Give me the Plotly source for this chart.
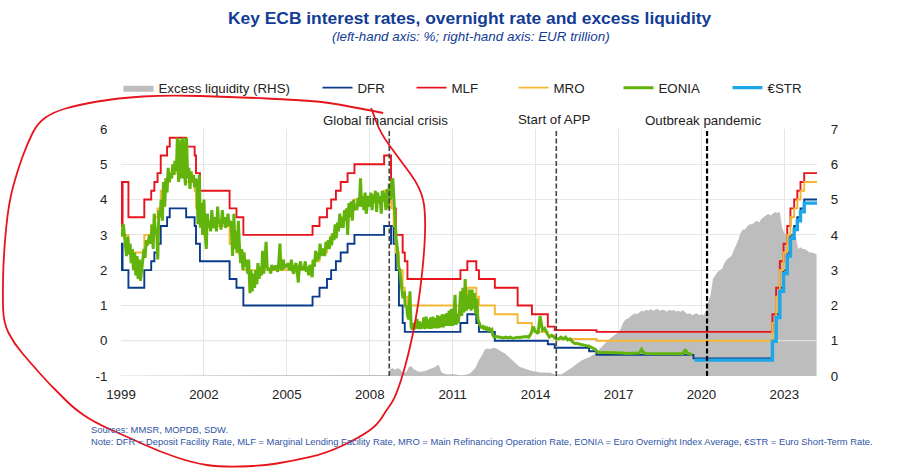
import pandas as pd
import plotly.graph_objects as go

W, H = 915, 468
PLOT_L, PLOT_R, PLOT_T, PLOT_B = 120.5, 817.3, 129, 376

# key ECB rates: date of each change, then the level from that date on
change_dates = [
    "1999-01-01", "1999-01-04", "1999-01-22", "1999-04-09", "1999-11-05", "2000-02-04", "2000-03-17", "2000-04-28",
    "2000-06-09", "2000-09-01", "2000-10-06", "2001-05-11", "2001-08-31", "2001-09-18", "2001-11-09", "2002-12-06",
    "2003-03-07", "2003-06-06", "2005-12-06", "2006-03-08", "2006-06-15", "2006-08-09", "2006-10-11", "2006-12-13",
    "2007-03-14", "2007-06-13", "2008-07-09", "2008-10-08", "2008-10-09", "2008-11-12", "2008-12-10", "2009-01-21",
    "2009-03-11", "2009-04-08", "2009-05-13", "2011-04-13", "2011-07-13", "2011-11-09", "2011-12-14", "2012-07-11",
    "2013-05-08", "2013-11-13", "2014-06-11", "2014-09-10", "2015-12-09", "2016-03-16", "2019-09-18", "2022-07-27",
    "2022-09-14", "2022-11-02", "2022-12-21", "2023-02-08", "2023-03-22", "2023-05-10", "2023-06-21", "2023-08-02",
    "2023-09-20", "2024-03-07",
]
dfr = [
    2.0, 2.75, 2.0, 1.5, 2.0, 2.25, 2.5, 2.75, 3.25, 3.5, 3.75, 3.5, 3.25, 2.75, 2.25, 1.75, 1.5, 1.0, 1.25, 1.5,
    1.75, 2.0, 2.25, 2.5, 2.75, 3.0, 3.25, 2.75, 3.25, 2.75, 2.0, 1.0, 0.5, 0.25, 0.25, 0.5, 0.75, 0.5, 0.25, 0.0,
    0.0, 0.0, -0.1, -0.2, -0.3, -0.4, -0.5, 0.0, 0.75, 1.5, 2.0, 2.5, 3.0, 3.25, 3.5, 3.75, 4.0, 4.0,
]
mro = [
    3.0, 3.0, 3.0, 2.5, 3.0, 3.25, 3.5, 3.75, 4.25, 4.5, 4.75, 4.5, 4.25, 3.75, 3.25, 2.75, 2.5, 2.0, 2.25, 2.5,
    2.75, 3.0, 3.25, 3.5, 3.75, 4.0, 4.25, 3.75, 3.75, 3.25, 2.5, 2.0, 1.5, 1.25, 1.0, 1.25, 1.5, 1.25, 1.0, 0.75,
    0.5, 0.25, 0.15, 0.05, 0.05, 0.0, 0.0, 0.5, 1.25, 2.0, 2.5, 3.0, 3.5, 3.75, 4.0, 4.25, 4.5, 4.5,
]
mlf = [
    4.5, 3.25, 4.5, 3.5, 4.0, 4.25, 4.5, 4.75, 5.25, 5.5, 5.75, 5.5, 5.25, 4.75, 4.25, 3.75, 3.5, 3.0, 3.25, 3.5,
    3.75, 4.0, 4.25, 4.5, 4.75, 5.0, 5.25, 4.75, 4.25, 3.75, 3.0, 3.0, 2.5, 2.25, 1.75, 2.0, 2.25, 2.0, 1.75, 1.5,
    1.0, 0.75, 0.4, 0.3, 0.3, 0.25, 0.25, 0.75, 1.5, 2.25, 2.75, 3.25, 3.75, 4.0, 4.25, 4.5, 4.75, 4.75,
]

# EONIA, two readings per month up to mid 2012
eonia_noisy = [
    3.2, 2.95, 3.3, 3.0, 2.9, 2.4, 2.95, 2.45, 2.75, 2.2, 2.6, 2.0, 2.5, 1.85, 2.4, 1.75, 2.3, 1.7, 2.0, 2.3, 2.6, 2.35, 2.85, 2.7,
    2.9, 3.0, 2.75, 3.3, 2.6, 3.6, 3.0, 3.2, 2.3, 3.7, 3.5, 4.0, 3.4, 4.5, 3.8, 4.6, 4.2, 4.9, 4.5, 4.75, 4.6, 5.0, 4.7, 5.1,
    4.8, 5.75, 4.5, 5.0, 5.7, 4.6, 5.75, 4.9, 4.4, 5.75, 4.6, 4.9, 4.3, 4.8, 4.5, 4.7, 4.35, 4.6, 4.4, 3.3, 4.7, 3.2, 3.9, 3.0,
    4.0, 3.1, 2.6, 3.6, 3.2, 3.4, 3.1, 3.7, 3.3, 3.2, 3.5, 3.1, 3.8, 3.3, 3.4, 3.15, 3.7, 3.3, 3.5, 3.2, 3.35, 3.6, 3.25, 3.4,
    3.1, 2.4, 3.6, 2.6, 3.1, 2.5, 3.4, 2.7, 2.2, 2.6, 2.0, 2.5, 2.1, 2.3, 1.9, 2.3, 1.35, 2.0, 1.4, 1.9, 1.5, 2.0, 1.6, 2.2,
    1.75, 2.1, 1.85, 2.55, 1.9, 2.2, 2.8, 2.1, 2.0, 2.05, 1.9, 2.15, 2.0, 2.05, 2.1, 2.1, 1.95, 2.2, 2.75, 2.05, 2.0, 2.3, 2.05, 2.15,
    2.1, 2.2, 2.0, 2.05, 2.3, 2.0, 1.9, 2.1, 2.2, 2.0, 1.65, 2.1, 2.25, 2.0, 2.1, 2.0, 2.25, 1.95, 2.1, 1.85, 2.15, 2.0, 1.8, 2.3,
    2.1, 2.55, 2.25, 2.5, 2.3, 2.75, 2.4, 2.55, 2.6, 2.4, 2.8, 2.6, 2.85, 2.6, 2.95, 2.7, 3.05, 2.85, 3.3, 2.9, 3.35, 3.1, 3.6, 3.2,
    3.5, 3.2, 3.7, 3.4, 3.75, 3.0, 3.9, 3.5, 3.95, 3.4, 4.0, 3.7, 3.85, 3.7, 4.05, 3.8, 4.6, 3.8, 4.1, 3.7, 4.2, 3.6, 3.95, 4.1,
    3.8, 4.2, 3.7, 4.15, 3.9, 4.25, 3.65, 4.2, 3.9, 4.1, 3.6, 4.25, 3.95, 4.2, 3.7, 4.3, 3.75, 4.45, 4.0, 4.5, 4.6, 3.9, 3.4, 2.9,
    2.6, 2.1, 2.0, 1.7, 1.5, 1.2, 1.4, 0.95, 1.0, 0.7, 0.6, 1.4, 0.4, 0.32, 0.5, 0.33, 0.45, 0.62, 0.33, 0.55, 0.33, 0.52, 0.35, 0.66,
    0.33, 0.68, 0.35, 0.6, 0.34, 0.66, 0.34, 0.68, 0.36, 0.64, 0.35, 0.72, 0.36, 0.7, 0.38, 0.75, 0.38, 0.75, 0.42, 0.78, 0.42, 0.85, 0.42, 0.9,
    0.42, 0.65, 1.3, 0.45, 0.75, 0.5, 0.85, 1.4, 0.7, 1.5, 0.8, 1.75, 0.85, 1.3, 0.9, 1.45, 0.85, 1.45, 0.9, 1.35, 0.75, 1.2, 0.6, 0.5,
    0.42, 0.38, 0.4, 0.35, 0.38, 0.33, 0.36, 0.3, 0.34, 0.3, 0.32, 0.16,
]
# then one reading per month, from July 2012 to September 2019
eonia_calm = [
    0.1, 0.12, 0.1, 0.1, 0.08, 0.1,
    0.08, 0.1, 0.07, 0.08, 0.1, 0.09, 0.1, 0.1, 0.12, 0.1, 0.2, 0.4,
    0.25, 0.2, 0.7, 0.3, 0.35, 0.2, 0.1, 0.15, 0.1, 0.05, 0.05, 0.1,
    0.05, 0.1, 0.02, 0.05, -0.03, -0.08, -0.08, -0.1, -0.12, -0.12, -0.14, -0.15,
    -0.18, -0.22, -0.25, -0.33, -0.33, -0.33, -0.33, -0.33, -0.34, -0.34, -0.35, -0.33,
    -0.35, -0.34, -0.35, -0.36, -0.36, -0.35, -0.36, -0.36, -0.35, -0.35, -0.24, -0.35,
    -0.36, -0.36, -0.35, -0.36, -0.36, -0.36, -0.36, -0.36, -0.36, -0.36, -0.36, -0.36,
    -0.36, -0.37, -0.37, -0.37, -0.37, -0.25, -0.36, -0.37, -0.4,
]

estr_dates = [
    "2019-10-01", "2022-07-27", "2022-09-14", "2022-11-02", "2022-12-21", "2023-02-08",
    "2023-03-22", "2023-05-10", "2023-06-21", "2023-08-02", "2023-09-20", "2024-03-07",
]
estr = [-0.55, -0.02, 0.66, 1.4, 1.9, 2.4, 2.9, 3.15, 3.4, 3.65, 3.9, 3.9]

# excess liquidity, EUR trillion, monthly from January 2008
excess_early_dates = ["1999-01-01", "2007-12-01"]
excess_early = [0.01, 0.01]
excess = [
    0.01, 0.02, 0.01, 0.01, 0.02, 0.01, 0.02, 0.01, 0.03, 0.2, 0.22, 0.18,
    0.22, 0.2, 0.12, 0.1, 0.12, 0.25, 0.28, 0.2, 0.16, 0.13, 0.12, 0.12,
    0.14, 0.17, 0.2, 0.22, 0.24, 0.28, 0.32, 0.12, 0.07, 0.06, 0.04, 0.05,
    0.06, 0.04, 0.03, 0.03, 0.02, 0.03, 0.04, 0.06, 0.1, 0.18, 0.24, 0.4,
    0.5, 0.62, 0.75, 0.78, 0.76, 0.77, 0.8, 0.78, 0.74, 0.7, 0.68, 0.62,
    0.56, 0.5, 0.42, 0.36, 0.3, 0.26, 0.24, 0.21, 0.19, 0.17, 0.15, 0.13,
    0.12, 0.11, 0.1, 0.11, 0.1, 0.09, 0.1, 0.08, 0.05, 0.02, 0.05, 0.04,
    0.08, 0.12, 0.15, 0.2, 0.25, 0.3, 0.36, 0.4, 0.44, 0.48, 0.5, 0.52,
    0.55, 0.6, 0.65, 0.7, 0.78, 0.85, 0.92, 1.0, 1.05, 1.1, 1.15, 1.2,
    1.25, 1.35, 1.5, 1.6, 1.62, 1.68, 1.72, 1.78, 1.75, 1.8, 1.85, 1.83,
    1.88, 1.85, 1.9, 1.85, 1.88, 1.9, 1.85, 1.88, 1.86, 1.82, 1.88, 1.85,
    1.87, 1.83, 1.85, 1.82, 1.86, 1.8, 1.75, 1.78, 1.72, 1.76, 1.78, 1.72,
    1.75, 1.72, 1.85, 2.1, 2.3, 2.75, 2.85, 2.95, 3.0, 3.05, 3.2, 3.3,
    3.35, 3.4, 3.55, 3.7, 3.85, 4.05, 4.15, 4.15, 4.25, 4.3, 4.3, 4.35,
    4.4, 4.35, 4.45, 4.5, 4.55, 4.6, 4.55, 4.6, 4.65, 4.62, 4.65, 4.2,
    4.05, 4.0, 4.02, 3.95, 3.98, 3.95, 3.6, 3.65, 3.6, 3.6, 3.55, 3.5,
    3.5, 3.48, 3.45,
]

event_dates = ["2008-09-15", "2014-10-01", "2020-03-15"]
event_labels = ["Global financial crisis", "Start of APP", "Outbreak pandemic"]

rate_ticks = [-1, 0, 1, 2, 3, 4, 5, 6]
rate_tick_labels = ["-1", "0", "1", "2", "3", "4", "5", "6"]

# the red pen circle somebody drew on the page, window pixels
pen_x = [383, 333, 300, 233, 167, 117, 77, 53, 37, 27, 17, 8, 3, 2, 3, 13, 30, 47, 60, 73, 93, 127, 160, 193, 220, 260,
         293, 327, 360, 377, 385, 397, 413, 423, 426, 420, 400, 380, 371]
pen_y = [113, 103, 100, 97, 95, 98, 105, 112, 123, 143, 170, 203, 253, 297, 323, 343, 363, 382, 395, 408, 422, 437, 452,
         463, 467, 466, 461, 453, 437, 425, 412, 395, 337, 270, 213, 187, 160, 133, 108]


def to_paper_x(px):
    return (px - PLOT_L) / (PLOT_R - PLOT_L)


def to_paper_y(py):
    return (PLOT_B - py) / (PLOT_B - PLOT_T)


def add_text(fig, text, px, py, size, color, anchor="center", family="Liberation Sans", **font):
    fig.add_annotation(
        text=text, x=to_paper_x(px), y=to_paper_y(py), xref="paper", yref="paper",
        xanchor=anchor, yanchor="middle", showarrow=False,
        font=dict(family=family, size=size, color=color, **font),
    )


def pen_stroke(xs, ys):
    # smooth the hand drawn line with quadratic segments through the midpoints
    pts = [(to_paper_x(x), to_paper_y(y)) for x, y in zip(xs, ys)]
    path = f"M {pts[0][0]:.4f},{pts[0][1]:.4f}"
    for a, b in zip(pts[1:-1], pts[2:]):
        path += f" Q {a[0]:.4f},{a[1]:.4f} {(a[0] + b[0]) / 2:.4f},{(a[1] + b[1]) / 2:.4f}"
    return path + f" L {pts[-1][0]:.4f},{pts[-1][1]:.4f}"


eonia_dates = list(pd.date_range("1999-01-01", periods=len(eonia_noisy), freq="SMS")) + \
    list(pd.date_range("2012-07-01", periods=len(eonia_calm), freq="MS"))
eonia = eonia_noisy + eonia_calm
excess_dates = [pd.Timestamp(d) for d in excess_early_dates] + \
    list(pd.date_range("2008-01-01", periods=len(excess), freq="MS"))

fig = go.Figure()

# area goes on the first axis so that all rate lines draw on top of it
fig.add_trace(go.Scatter(
    x=excess_dates, y=excess_early + excess, name="Excess liquidity (RHS)", mode="lines",
    line=dict(width=0, color="#BDBDBD"), fill="tozeroy", fillcolor="#BDBDBD", legendwidth=154,
))
# the left axis zero line stays visible over the grey area
fig.add_trace(go.Scatter(
    x=["1999-01-01", "2024-03-07"], y=[0, 0], yaxis="y2", mode="lines", showlegend=False, hoverinfo="skip",
    line=dict(color="#E6E6E6", width=1),
))
fig.add_trace(go.Scatter(x=change_dates, y=dfr, name="DFR", yaxis="y2", mode="lines",
                         line=dict(color="#0B3C8C", width=1.9, shape="hv"), legendwidth=49))
fig.add_trace(go.Scatter(x=change_dates, y=mlf, name="MLF", yaxis="y2", mode="lines",
                         line=dict(color="#E8141C", width=1.9, shape="hv"), legendwidth=57))
fig.add_trace(go.Scatter(x=change_dates, y=mro, name="MRO", yaxis="y2", mode="lines",
                         line=dict(color="#F5B731", width=1.9, shape="hv"), legendwidth=60))
fig.add_trace(go.Scatter(x=eonia_dates, y=eonia, name="EONIA", yaxis="y2", mode="lines",
                         line=dict(color="#62B30B", width=3), legendwidth=64))
fig.add_trace(go.Scatter(x=estr_dates, y=estr, name="€STR", yaxis="y2", mode="lines",
                         line=dict(color="#1CA8E8", width=3.4, shape="hv"), legendwidth=30))

for d, color, width in zip(event_dates, ["#444444", "#444444", "#000000"], [1.6, 1.6, 2.2]):
    fig.add_shape(type="line", x0=d, x1=d, y0=0, y1=1, xref="x", yref="paper",
                  line=dict(color=color, width=width, dash="5px,2.5px"))

fig.add_shape(type="path", path=pen_stroke(pen_x, pen_y), xref="paper", yref="paper", line=dict(color="#E8141C", width=1.8))

add_text(fig, "<b>Key ECB interest rates, overnight rate and excess liquidity</b>", 470, 18, 17.4, "#123C96")
add_text(fig, "<i>(left-hand axis: %; right-hand axis: EUR trillion)</i>", 471, 36, 13.4, "#123C96")
for label, px, py in zip(event_labels, [385.5, 554, 703], [121, 119, 120]):
    add_text(fig, label, px, py, 13.3, "#222222")
add_text(fig, "Sources: MMSR, MOPDB, SDW.", 88.5, 429.5, 9.4, "#2F55A5", anchor="left")
add_text(fig, "Note: DFR = Deposit Facility Rate, MLF = Marginal Lending Facility Rate, MRO = Main Refinancing Operation Rate, "
              "EONIA = Euro Overnight Index Average, €STR = Euro Short-Term Rate.", 88.5, 441.5, 9.4, "#2F55A5", anchor="left")

fig.update_layout(
    width=W, height=H, plot_bgcolor="white", paper_bgcolor="white",
    margin=dict(l=PLOT_L, r=W - PLOT_R, t=PLOT_T, b=H - PLOT_B, pad=0),
    font=dict(family="Liberation Sans", size=13.3, color="#222222"),
    legend=dict(
        orientation="h", x=to_paper_x(118), y=to_paper_y(88), xanchor="left", yanchor="middle",
        itemwidth=30, font=dict(size=13.3, color="#222222"), bgcolor="rgba(0,0,0,0)", traceorder="normal",
    ),
    xaxis=dict(
        type="date", range=["1999-01-01", "2024-03-07"], tick0="1999-01-01", dtick="M36", tickformat="%Y",
        showgrid=True, gridcolor="#E6E6E6", gridwidth=1, zeroline=False, ticks="outside", ticklen=6, tickcolor="white",
        tickfont=dict(size=13.3),
    ),
    yaxis=dict(
        side="right", range=[0, 7], dtick=1, showgrid=True, gridcolor="#E6E6E6", gridwidth=1, zeroline=False,
        ticks="outside", ticklen=10, tickcolor="white", tickfont=dict(size=13.3),
    ),
    yaxis2=dict(
        side="left", overlaying="y", range=[-1, 6], tickmode="array", tickvals=rate_ticks, ticktext=rate_tick_labels,
        showgrid=False, zeroline=False, ticks="outside", ticklen=10, tickcolor="white", tickfont=dict(size=13.3),
    ),
)

fig.write_html(
    "out.html",
    config={"displayModeBar": False},
    post_script="document.body.style.margin='0';document.body.style.overflow='hidden';",
)
